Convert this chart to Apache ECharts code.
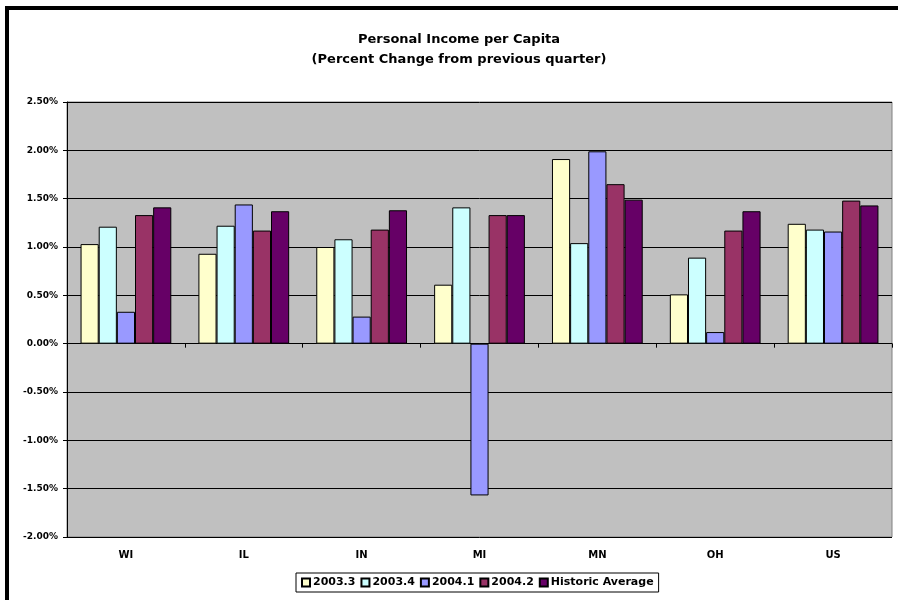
<!DOCTYPE html>
<html><head><meta charset="utf-8">
<script src="https://cdn.jsdelivr.net/npm/echarts@6/dist/echarts.min.js"></script>
<style>html,body{margin:0;padding:0;background:#fff}#c{width:898px;height:600px}</style>
</head><body><div id="c"></div>
<script>
const categories = ['WI', 'IL', 'IN', 'MI', 'MN', 'OH', 'US'];
const seriesNames = ['2003.3', '2003.4', '2004.1', '2004.2', 'Historic Average'];
const s2003_3 = [1.03, 0.93, 1.00, 0.61, 1.91, 0.51, 1.24];
const s2003_4 = [1.21, 1.22, 1.08, 1.41, 1.04, 0.89, 1.18];
const s2004_1 = [0.33, 1.44, 0.28, -1.57, 1.99, 0.12, 1.16];
const s2004_2 = [1.33, 1.17, 1.18, 1.33, 1.65, 1.17, 1.48];
const sHistoric = [1.41, 1.37, 1.38, 1.33, 1.49, 1.37, 1.43];
const yMin = -2.0, yMax = 2.5, yStep = 0.5;
const colors = ['#FFFFCC', '#CCFFFF', '#9999FF', '#993366', '#660066'];
const seriesData = [s2003_3, s2003_4, s2004_1, s2004_2, sHistoric];

const FONT = 'DejaVu Sans';
const chart = echarts.init(document.getElementById('c'), null, {renderer: 'canvas'});
chart.setOption({
  animation: false,
  backgroundColor: '#ffffff',
  title: {
    text: 'Personal Income per Capita\n(Percent Change from previous quarter)',
    left: 459, top: 30, textAlign: 'center', padding: 0,
    textStyle: {fontFamily: FONT, fontWeight: 'bold', fontSize: 13, color: '#000', lineHeight: 20}
  },
  legend: {
    data: seriesNames,
    left: 296, top: 573,
    itemWidth: 8, itemHeight: 8, itemGap: 5,
    padding: [4, 5, 4, 5],
    borderColor: '#000', borderWidth: 1,
    icon: 'rect',
    textStyle: {fontFamily: FONT, fontWeight: 'bold', fontSize: 11, color: '#000', padding: [0, 0, 0, -2]}
  },
  grid: {
    left: 67, right: 6, top: 102, bottom: 63,
    show: true, backgroundColor: '#C0C0C0', borderColor: '#808080', borderWidth: 1
  },
  xAxis: [{
    type: 'category', data: categories, position: 'bottom',
    axisLine: {show: false, onZero: false},
    axisTick: {show: false},
    axisLabel: {margin: 13, fontFamily: FONT, fontWeight: 'bold', fontSize: 10, color: '#000'}
  }, {
    type: 'category', data: categories, position: 'bottom',
    axisLine: {show: true, onZero: true, lineStyle: {color: '#000', width: 1}},
    axisTick: {show: true, length: 4, lineStyle: {color: '#000'}},
    axisLabel: {show: false},
    splitLine: {show: false}
  }],
  yAxis: {
    type: 'value', min: yMin, max: yMax, interval: yStep,
    axisLine: {show: true, lineStyle: {color: '#000'}},
    axisTick: {show: true, length: 4, lineStyle: {color: '#000'}},
    axisLabel: {margin: 9, fontFamily: FONT, fontWeight: 'bold', fontSize: 9, color: '#000',
      formatter: v => v.toFixed(2) + '%'},
    splitLine: {show: true, lineStyle: {color: '#000', width: 1}}
  },
  series: seriesNames.map((n, i) => ({
    name: n, type: 'bar', xAxisIndex: 0, data: seriesData[i],
    barGap: '0%', barCategoryGap: '23%',
    itemStyle: {color: colors[i], borderColor: '#000', borderWidth: 1}
  })),
  graphic: [{
    type: 'rect', shape: {x: 7, y: 8, width: 1000, height: 1000},
    style: {fill: 'none', stroke: '#000', lineWidth: 4}, z: 100
  }]
});
</script></body></html>
